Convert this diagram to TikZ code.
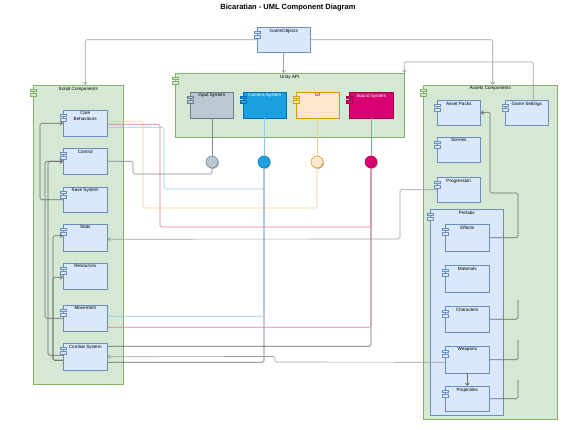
\documentclass[tikz,border=0pt]{standalone}
\usepackage{fontspec}
\setmainfont{Liberation Sans}
\usetikzlibrary{arrows.meta,shadows}
\definecolor{cfill}{HTML}{D5E8D4}
\definecolor{cdraw}{HTML}{82B366}
\definecolor{bfill}{HTML}{DAE8FC}
\definecolor{bdraw}{HTML}{6C8EBF}
\definecolor{infill}{HTML}{BAC8D3}
\definecolor{indraw}{HTML}{6B7C8A}
\definecolor{camfill}{HTML}{1BA1E2}
\definecolor{camdraw}{HTML}{006EAF}
\definecolor{uifill}{HTML}{FFE6CC}
\definecolor{uidraw}{HTML}{D79B00}
\definecolor{sndfill}{HTML}{D80073}
\definecolor{snddraw}{HTML}{A50040}
\definecolor{camln}{HTML}{8EC8EE}
\definecolor{uiln}{HTML}{F3C998}
\definecolor{sndln}{HTML}{E4789C}
\definecolor{inln}{HTML}{7A8794}
\definecolor{greyln}{HTML}{A0A0A0}
\definecolor{darkln}{HTML}{6A6A6A}
\newcommand{\comp}[8]{%
  \node[#6, anchor=north west, minimum width={(#4-#2)*1pt}, minimum height={(#5-#3)*1pt}] (#1) at (#2,#3) {};
  \node[lbl, anchor=north] (#1-l) at ([yshift=-1.5pt]#1.north) {#8};
  \draw[#7] ([xshift=-3pt,yshift=-4pt]#1.north west) rectangle ++(6pt,-2.5pt);
  \draw[#7] ([xshift=-3pt,yshift=-8.5pt]#1.north west) rectangle ++(6pt,-2.5pt);
}
\begin{document}
\begin{tikzpicture}[x=1pt,y=-1pt,
  shd/.style={drop shadow={shadow xshift=0.9pt,shadow yshift=-0.9pt,opacity=0.3,fill=black}},
  cont/.style={draw=cdraw,fill=cfill,line width=0.5pt,inner sep=0,shd},
  cicon/.style={draw=cdraw,fill=cfill,line width=0.4pt},
  box/.style={draw=bdraw,fill=bfill,line width=0.5pt,inner sep=0,shd},
  bicon/.style={draw=bdraw,fill=bfill,line width=0.4pt},
  inbox/.style={draw=indraw,fill=infill,line width=0.5pt,inner sep=0,shd},
  inicon/.style={draw=indraw,fill=infill,line width=0.4pt},
  cambox/.style={draw=camdraw,fill=camfill,line width=0.5pt,inner sep=0,shd},
  camicon/.style={draw=camdraw,fill=camfill,line width=0.4pt},
  uibox/.style={draw=uidraw,fill=uifill,line width=0.5pt,inner sep=0,shd},
  uiicon/.style={draw=uidraw,fill=uifill,line width=0.4pt},
  sndbox/.style={draw=snddraw,fill=sndfill,line width=0.5pt,inner sep=0,shd},
  sndicon/.style={draw=snddraw,fill=sndfill,line width=0.4pt},
  lbl/.style={font=\fontsize{4.6}{5.4}\selectfont,align=center,inner sep=0},
  lolli/.style={circle,minimum size=12pt,inner sep=0,line width=0.5pt,shd},
  tip/.style={-{Straight Barb[length=2.5pt,width=4pt]}},
  ln/.style={line width=0.65pt,rounded corners=1.5pt},
  gl/.style={ln,draw=greyln},
  dl/.style={ln,draw=darkln}
]
\useasboundingbox (0,0) rectangle (576,430);
\fill[white] (0,0) rectangle (576,430);

\node[font=\bfseries\fontsize{7.5}{9}\selectfont] (title) at (288,8) {Bicaratian - UML Component Diagram};

% containers
\comp{script}{33}{85}{123}{384}{cont}{cicon}{Script Components}
\comp{unity}{175}{73}{404}{137}{cont}{cicon}{Unity API}
\comp{assets}{423}{85}{557}{419}{cont}{cicon}{Assets Components}
\comp{prefabs}{430}{209}{503}{415}{box}{bicon}{Prefabs}

% top
\comp{go}{257}{27}{310}{52}{box}{bicon}{GameObjects}

% script components
\comp{core}{63}{110}{107}{136}{box}{bicon}{Core\\Behaviours}
\comp{ctrl}{63}{148}{107}{174}{box}{bicon}{Control}
\comp{save}{63}{187}{107}{212}{box}{bicon}{Save System}
\comp{stats}{63}{224}{107}{251}{box}{bicon}{Stats}
\comp{res}{63}{263}{107}{289}{box}{bicon}{Resources}
\comp{move}{63}{305}{107}{331}{box}{bicon}{Movement}
\comp{combat}{63}{343}{107}{370}{box}{bicon}{Combat System}

% unity api
\comp{inp}{190}{92}{233}{118}{inbox}{inicon}{Input System}
\comp{cam}{243}{92}{286}{118}{cambox}{camicon}{\color{white}Camera System}
\comp{ui}{296}{92}{339}{118}{uibox}{uiicon}{UI}
\comp{snd}{349}{92}{393}{118}{sndbox}{sndicon}{\color{white}Sound System}

% assets
\comp{ap}{437}{100}{480}{125}{box}{bicon}{Asset Packs}
\comp{gs}{505}{100}{548}{125}{box}{bicon}{Game Settings}
\comp{scenes}{437}{137}{480}{162}{box}{bicon}{Scenes}
\comp{prog}{437}{177}{480}{202}{box}{bicon}{Progression}
\comp{eff}{445}{224}{489}{251}{box}{bicon}{Effects}
\comp{mat}{445}{265}{489}{292}{box}{bicon}{Materials}
\comp{char}{445}{306}{489}{332}{box}{bicon}{Characters}
\comp{weap}{445}{346}{489}{373}{box}{bicon}{Weapons}
\comp{proj}{445}{386}{489}{411}{box}{bicon}{Projectiles}

% lollipops
\node[lolli,draw=indraw,fill=infill] (inc) at (212,162) {};
\node[lolli,draw=camdraw,fill=camfill] (camc) at (264,162) {};
\node[lolli,draw=uidraw,fill=uifill] (uic) at (317,162) {};
\node[lolli,draw=snddraw,fill=sndfill] (sndc) at (371,162) {};

\draw[ln,draw=inln] (inp.south -| inc) -- (inc);
\draw[ln,draw=camln] (cam.south -| camc) -- (camc);
\draw[ln,draw=uiln] (ui.south -| uic) -- (uic);
\draw[ln,draw=sndln] (snd.south -| sndc) -- (sndc);

% GameObjects connectors
\draw[gl,tip] (go.west) -| ([xshift=7pt]script.north);
\draw[gl,tip] (go.east) -| ([xshift=2.5pt]assets.north);
\draw[gl,tip] (go.south) -- (go.south |- unity.north);
\draw[gl,tip] ([xshift=6.5pt]gs.north) |- (404,62) -- (unity.north east);

% dark connectors to interfaces (drawn first)
\draw[dl] ([yshift=10.5pt]combat.east) -| (sndc);
\draw[dl] ([yshift=-5.5pt]combat.east) -| (camc);

% coloured connectors
\draw[ln,draw=inln] (ctrl.east) -| (133,174) -| (inc);
\draw[ln,draw=camln] ([yshift=-4pt]core.east) -| (164,189) -| (camc);
\draw[ln,draw=uiln] ([yshift=2pt]core.east) -| (143,208) -| (uic);
\draw[ln,draw=sndln] ([yshift=-1pt]core.east) -| (160,227) -| (sndc);
\draw[ln,draw=camln] ([yshift=2pt]move.east) -| (camc);
\draw[ln,draw=sndln] ([yshift=-9pt]move.east) -| (sndc);

% assets connectors
\draw[gl,tip] ([yshift=-2.5pt]weap.west) -- (275,362) -- (275,356.5) -- (combat.east);
\draw[gl,tip] (prog.west) -| (400,239) -- ([yshift=-1.5pt]stats.east);
\draw[dl,tip] (eff.east) -| (518,193) -| (490,112) -- (ap.east);
\draw[dl] (char.east) -| (518,300);
\draw[dl] (weap.east) -| (518,340);
\draw[dl] (proj.east) -| (518,380);
\draw[dl,tip] (weap.south) -- (proj.north);

% script internal connectors
\draw[dl,tip] (save.west) -| (40,160) |- (core.west);
\draw[dl,tip] (move.west) -| (45,240) |- (ctrl.west);
\draw[dl,tip] ([yshift=1.5pt]combat.west) -| (48,240) |- (ctrl.west);
\draw[dl,tip] ([yshift=-3.5pt]combat.west) -| (53,300) |- ([yshift=2pt]stats.west);
\draw[dl,tip] ([yshift=-3.5pt]combat.west) -| (53,300) |- ([yshift=-1pt]res.west);
\end{tikzpicture}
\end{document}
